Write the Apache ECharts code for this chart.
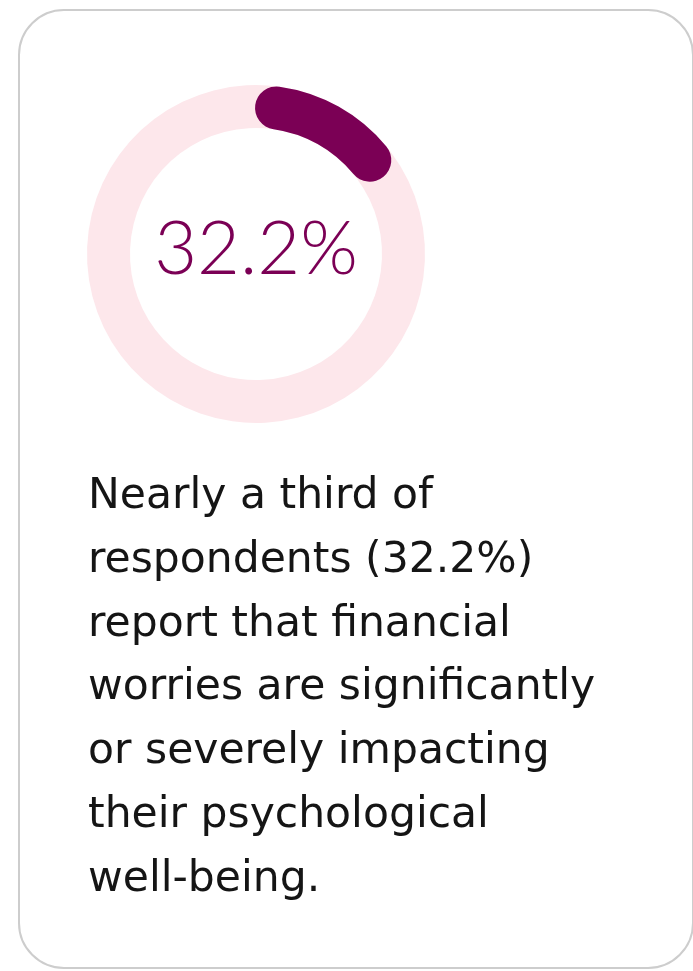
<!DOCTYPE html>
<html>
<head>
<meta charset="utf-8">
<title>Financial worries</title>
<script src="https://cdn.jsdelivr.net/npm/echarts@6/dist/echarts.min.js"></script>
<style>
  html, body { margin: 0; padding: 0; background: #fff; }
  #chart { width: 693px; height: 971px; }
</style>
</head>
<body>
<div id="chart"></div>
<script>
// headline figure shown in the middle of the ring
const headline = [32.2]
// arc as drawn in the picture: where it starts (degrees clockwise from 12 o'clock) and its length (% of ring)
const arcStartDeg = [8]
const arcShown = [11.8]
// caption lines, broken as in the picture
const captionLines = [
  'Nearly a third of',
  'respondents (32.2%)',
  'report that financial',
  'worries are significantly',
  'or severely impacting',
  'their psychological',
  'well-being.',
]

const PURPLE = '#7b0055'
const TRACK = '#fde7eb'
const BODY_FONT = '"DejaVu Sans", sans-serif'
const NUM_FONT = 'Lato, Inter, sans-serif'

const chart = echarts.init(document.getElementById('chart'), null, { renderer: 'canvas' })

const start = 90 - arcStartDeg[0]

chart.setOption({
  animation: false,
  graphic: [
    {
      type: 'rect',
      z: -10,
      shape: { x: 19, y: 10, width: 674, height: 958, r: 45 },
      style: { fill: '#fff', stroke: '#cdcdcd', lineWidth: 2 },
    },
    {
      type: 'text',
      left: 88,
      top: 465,
      style: {
        text: captionLines.join('\n'),
        font: '400 42.5px ' + BODY_FONT,
        lineHeight: 63.8,
        fill: '#151515',
      },
    },
  ],
  series: [
    {
      type: 'gauge',
      center: [256, 254],
      radius: 169,
      startAngle: start,
      endAngle: start - 360,
      min: 0,
      max: 100,
      axisLine: { lineStyle: { width: 43, color: [[1, TRACK]] } },
      progress: { show: true, width: 43, roundCap: true, itemStyle: { color: PURPLE } },
      pointer: { show: false },
      axisTick: { show: false },
      splitLine: { show: false },
      axisLabel: { show: false },
      title: { show: false },
      detail: {
        show: true,
        offsetCenter: [0, -4],
        color: PURPLE,
        fontFamily: NUM_FONT,
        fontWeight: 300,
        fontSize: 74,
        formatter: () => headline[0] + '%',
      },
      data: [{ value: arcShown[0] }],
    },
  ],
})
</script>
</body>
</html>
